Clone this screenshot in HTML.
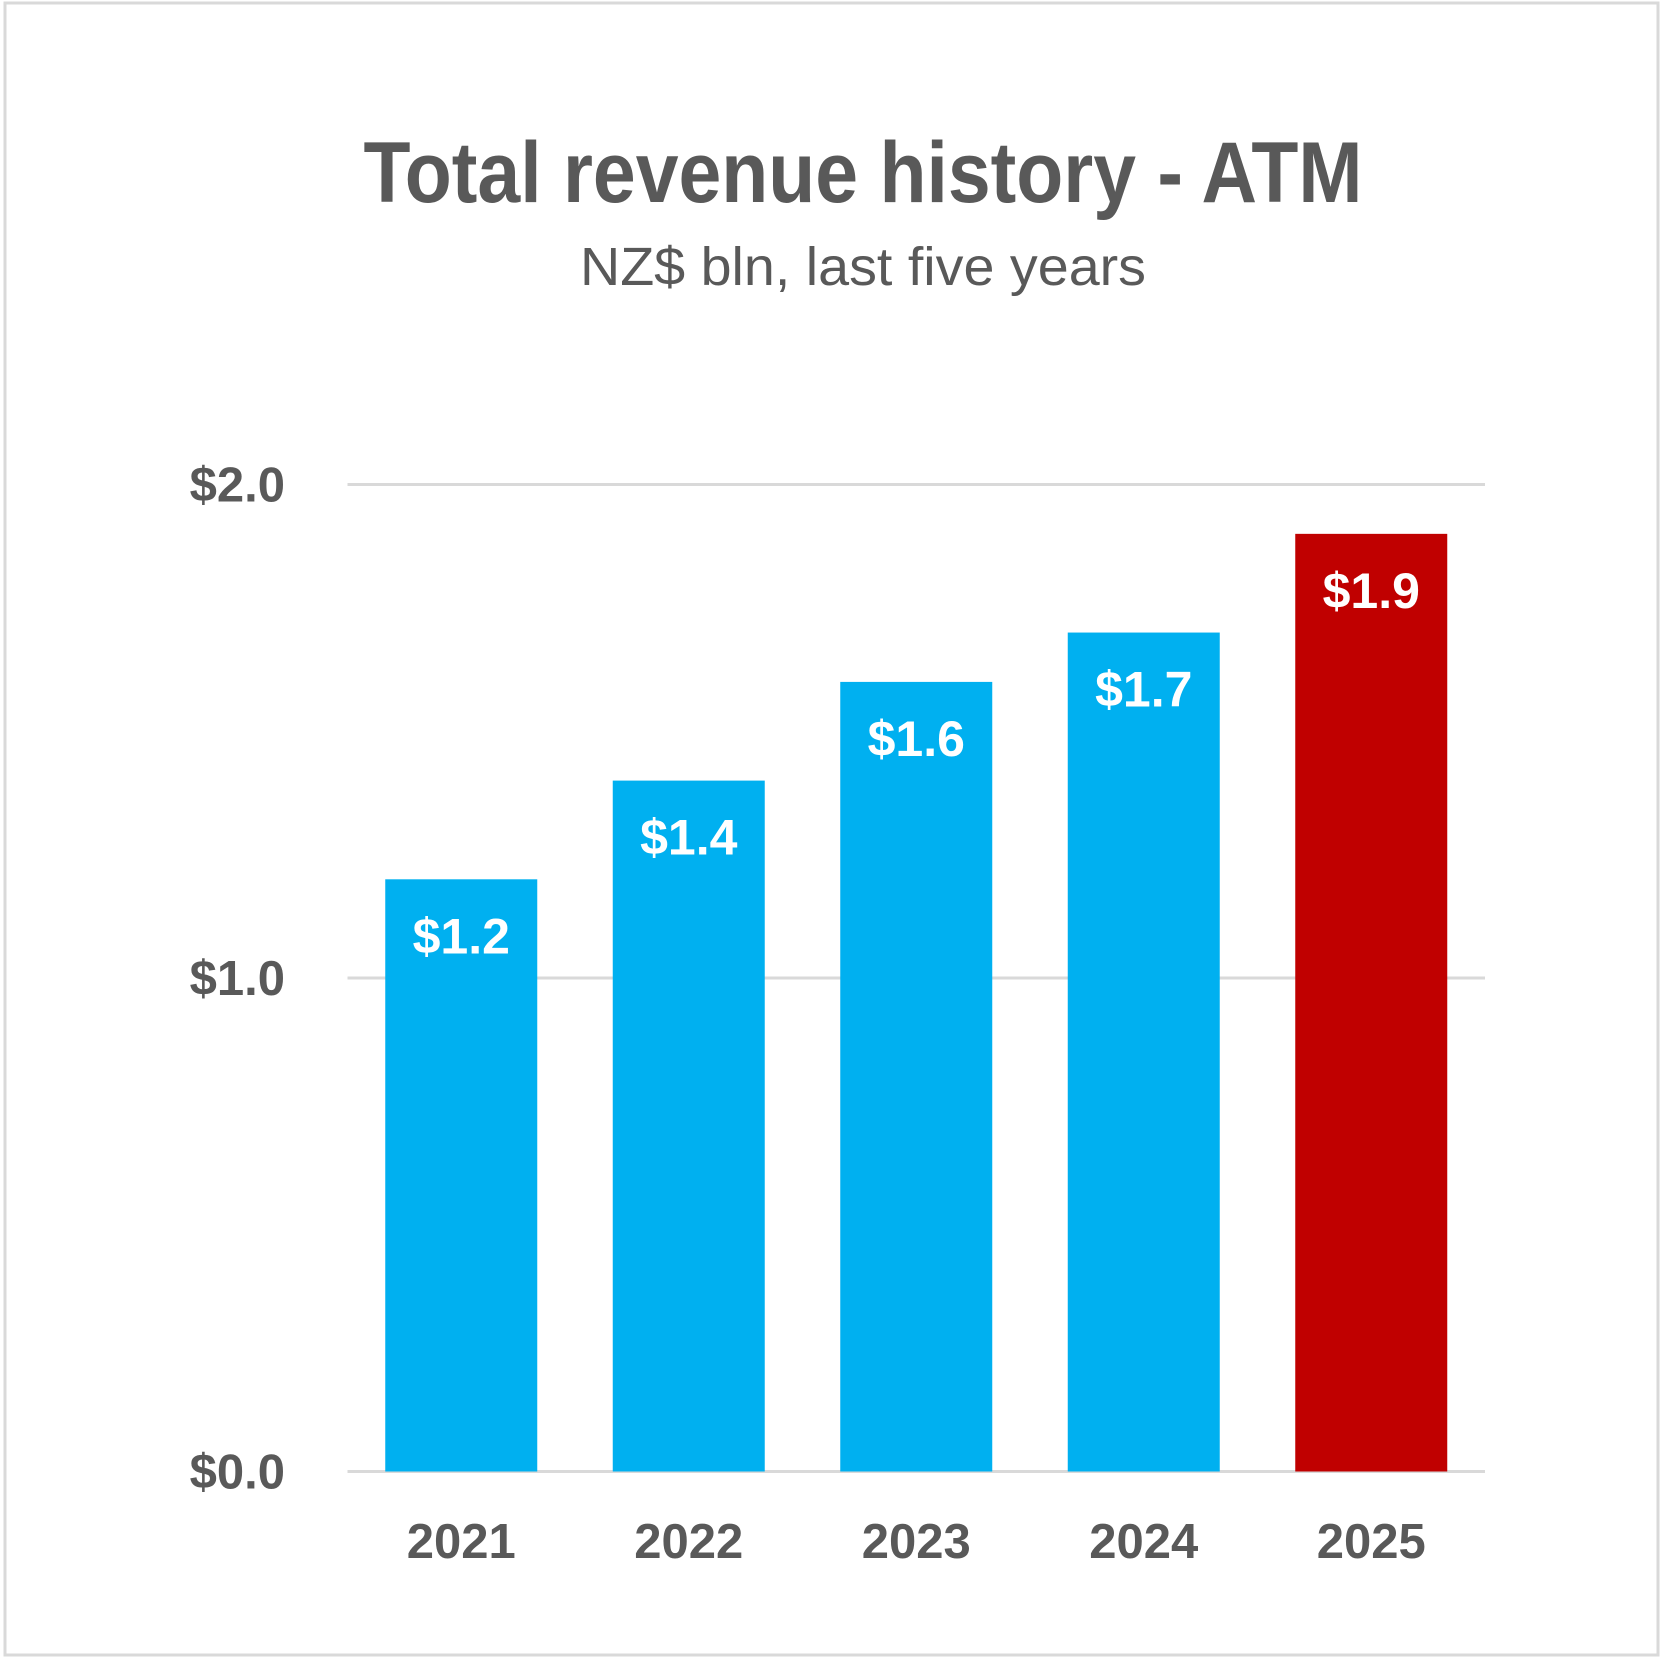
<!DOCTYPE html>
<html><head><meta charset="utf-8"><style>
html,body{margin:0;padding:0;background:#fff;}
svg{display:block;font-family:"Liberation Sans",sans-serif;}
</style></head><body>
<svg id="chart" width="1663" height="1659" viewBox="0 0 1663 1659">
<rect x="5" y="3" width="1653" height="1652" fill="#fff" stroke="#d9d9d9" stroke-width="3"/>
<text x="863" y="202" text-anchor="middle" font-size="86" font-weight="bold" fill="#595959" textLength="999" lengthAdjust="spacingAndGlyphs">Total revenue history - ATM</text>
<text x="863" y="285" text-anchor="middle" font-size="54" fill="#595959" textLength="566" lengthAdjust="spacingAndGlyphs">NZ$ bln, last five years</text>
<g id="grid"></g><g id="bars"></g><g id="labels"></g>
</svg>
<script>
const categories = ["2021","2022","2023","2024","2025"];
const values = [1.2,1.4,1.6,1.7,1.9];
const valueLabels = ["$1.2","$1.4","$1.6","$1.7","$1.9"];
const ticks = [0,1,2];
const tickLabels = ["$0.0","$1.0","$2.0"];
const colors = ["#00B0F0","#00B0F0","#00B0F0","#00B0F0","#C00000"];
const NS="http://www.w3.org/2000/svg";
const plotL=347.5, plotR=1485, y0=1471.5, y2=484.5;
const yScale=v=>y0-(y0-y2)*v/2;
const band=(plotR-plotL)/categories.length, bw=152;
const xCenter=i=>plotL+band*(i+0.5);
function mk(tag,attrs,parent){const e=document.createElementNS(NS,tag);for(const k in attrs)e.setAttribute(k,attrs[k]);document.getElementById(parent).appendChild(e);return e;}
ticks.forEach((t,i)=>{
  const l=mk('line',{x1:plotL,x2:plotR,y1:yScale(t),y2:yScale(t),stroke:'#d9d9d9','stroke-width':3},'grid');
  
  
  const tx=mk('text',{x:285,y:yScale(t)+17,'text-anchor':'end','font-size':49,'font-weight':'bold',fill:'#595959'},'labels');
  tx.textContent=tickLabels[i];
  
  
});
categories.forEach((c,i)=>{
  const r=mk('rect',{x:xCenter(i)-bw/2,y:yScale(values[i]),width:bw,height:y0-yScale(values[i]),fill:colors[i]},'bars');
  
  
  const v=mk('text',{x:xCenter(i),y:yScale(values[i])+74,'text-anchor':'middle','font-size':50,'font-weight':'bold',fill:'#fff'},'labels');
  v.textContent=valueLabels[i];
  
  
  const x=mk('text',{x:xCenter(i),y:1558,'text-anchor':'middle','font-size':49,'font-weight':'bold',fill:'#595959'},'labels');
  x.textContent=c;
  
  
});
</script>
</body></html>
